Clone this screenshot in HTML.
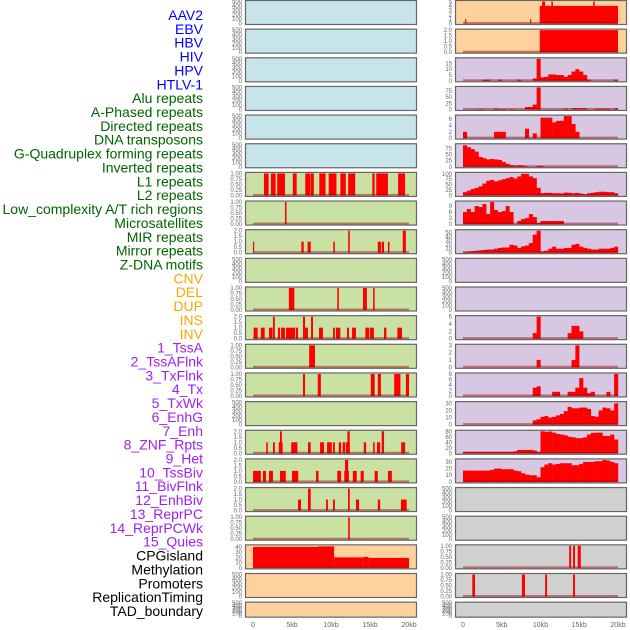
<!DOCTYPE html>
<html><head><meta charset="utf-8"><style>
html,body{margin:0;padding:0;background:#fff;width:630px;height:630px;overflow:hidden}
svg{display:block}
</style></head><body>
<svg id="chart" width="630" height="630" xmlns="http://www.w3.org/2000/svg"></svg>
<script>
// ---- track labels ----
const labelNames = ["AAV2","EBV","HBV","HIV","HPV","HTLV-1","Alu repeats","A-Phased repeats","Directed repeats","DNA transposons","G-Quadruplex forming repeats","Inverted repeats","L1 repeats","L2 repeats","Low_complexity A/T rich regions","Microsatellites","MIR repeats","Mirror repeats","Z-DNA motifs","CNV","DEL","DUP","INS","INV","1_TssA","2_TssAFlnk","3_TxFlnk","4_Tx","5_TxWk","6_EnhG","7_Enh","8_ZNF_Rpts","9_Het","10_TssBiv","11_BivFlnk","12_EnhBiv","13_ReprPC","14_ReprPCWk","15_Quies","CPGisland","Methylation","Promoters","ReplicationTiming","TAD_boundary"];
const labelGroups = [6,13,5,15,5]; // counts per colour group
const groupColors = ["#0000ff","#006400","#ffa500","#a020f0","#000000"];
const xTickKb = [0,5,10,15,20];
const xTickLabels = ["0","5kb","10kb","15kb","20kb"];

// ---- middle column data: [startKb, endKb, value] ----
const midL1 = [[1.4,2.0,1],[2.3,2.9,1],[3.1,4.1,1],[5.1,5.6,1],[6.7,7.35,1],[7.4,7.8,1],[8.5,9.3,1],[9.7,10.7,1],[11.2,11.9,1],[12.2,13.1,1],[15.3,15.6,1],[15.8,17.3,1],[18.6,19.5,1]];
const midR7 = [[4.1,4.3,1]];
const midR8 = [[0,0.15,1],[6.2,6.5,1],[7.0,7.4,1],[10.3,10.5,1],[12.2,12.4,2],[16.0,16.4,1],[16.5,16.8,1],[17.3,17.5,1],[19.2,19.6,2]];
const midR10 = [[4.6,5.3,1],[10.8,11.0,1],[14.1,14.6,1],[15.4,15.6,1]];
const midR11 = [[0.08,0.6,1],[1.0,1.5,1],[2.05,2.5,1],[2.56,2.8,2],[3.2,3.46,1],[3.6,4.1,1],[4.23,5.4,1],[5.5,5.77,1],[6.41,6.67,2],[6.67,7.05,1],[7.44,7.69,2],[8.46,8.97,1],[10.26,10.5,1],[10.64,11.2,1],[12.05,12.3,1],[12.7,13.2,1],[14.4,14.9,1],[15.0,15.5,1],[16.8,17.1,1],[18.5,19.1,1]];
const midR12 = [[7.2,7.95,1]];
const midR13 = [[6.41,6.67,1],[8.3,8.7,1],[15.1,15.6,1],[16.0,16.4,1],[18.1,18.9,1],[19.6,20.0,1]];
const midR15 = [[1.7,1.9,1],[2.56,2.8,1],[3.3,3.8,1],[3.46,3.7,2],[4.9,5.7,1],[7.05,7.4,1],[8.6,9.1,1],[9.5,10.1,1],[10.26,10.5,1],[11.0,11.3,1],[11.5,11.8,1],[11.9,12.4,1],[12.1,12.4,2],[14.2,14.5,1],[15.4,15.6,1],[15.9,16.3,1],[16.5,16.8,2],[19.0,19.5,1]];
const midR16 = [[0,1.0,1],[1.28,1.66,1],[2.05,2.56,1],[3.46,4.2,1],[5.0,5.8,1],[8.08,8.4,1],[10.8,11.3,1],[11.7,12.3,1],[11.8,12.2,2],[12.8,13.3,1],[13.8,14.2,1],[15.6,16.0,1],[17.3,17.8,1]];
const midR17 = [[5.77,6.15,1],[7.05,7.4,2],[9.36,9.6,1],[10.26,10.5,1],[12.18,12.4,2],[13.2,13.6,1],[16.0,16.3,1],[18.97,19.7,1]];
const midR18 = [[12.2,12.4,1]];
const midCpg = [[0,8.4,40],[8.4,10.4,41],[10.4,14.2,20],[14.2,14.8,21],[14.8,20,19]];

// ---- right column data ----
const rightR0 = [[0.27,0.4,1],[8.65,8.8,1],[9.9,20,4],[10.2,10.6,5],[11.4,11.6,5],[16.8,17.0,5]];
const rightR1 = [[9.9,20,2]];
// dense profiles: 40 bins of 0.5 kb from 0 to 20 kb
const rightR2 = [0,0,0,0,0,1,1,0,0,1,0,0,0,0,1,0,0,0,2,19,3,3.5,5.5,5.5,5,5,3.5,5,8,10,8,5,1,0,0,0,0,0,0,1];
const rightR3 = [0,0,0,0,2,0,0,0,4,2,2,0,2,0,0,0,10,10,20,90,0,0,0,0,0,0,3,0,5,5,5,5,0,0,3,3,3,3,0,5];
const rightR4 = [2,0,0,0,0,0,0,0,2,2,2,0,0,0,0,0,3,0,1.5,0,6.5,6.5,6.5,5,5.5,5.5,7,7,4.5,2,0,0,0,0,0,0,0,0,0,0];
const rightR5 = [88,80,72,62,40,35,30,32,30,28,20,12,7,5,6,5,2,0,0,4,3,0,0,0,0,0,0,0,0,0,0,0,0,0,0,0,0,0,0,0];
const rightR6 = [15,22,30,35,42,55,68,72,65,70,75,80,85,78,88,100,100,88,80,35,10,12,12,10,10,9,13,12,10,12,8,5,10,12,15,17,17,15,15,10];
const rightR7 = [6,7.5,6,9,8.5,10,5,11,7,6,6.5,9,6,0,1.5,2.5,3,5,3.5,0.5,1.5,1.5,1.5,1.5,1.5,1.5,0,0,0,0,0,0,0,0,0,0,0,0,0,0];
const rightR8 = [2,3,4,5,6,7,8,8,10,12,13,13,20,18,12,16,18,24,45,55,3,5,10,15,10,10,12,12,20,22,15,12,10,8,8,10,10,10,12,15];
const rightR11 = [0,0,0,0,0,0,0,0,0,0,0,0,0,0,0,0,0,0,1.5,6,0,0,0,0,0,0,0,1.5,3.5,3.5,2,0,0,0,0,0,0,0,0,0];
const rightR12 = [0,0,0,0,0,0,0,0,0,0,0,0,0,0,0,0,0,0,0,1,0,0,0,0,0,0,0,0,1,3,0,0,0,0,0,0,0,0,0,0];
const rightR13 = [0,0,0,0,0,0,0,0,0,0,0,0,0,0,0,0,0,0,3,3.5,0,0,0,1.5,1.5,0,0,1.5,1.5,3,6.5,3,1,1.5,0,0,0,1.5,0,8];
const rightR14 = [0,0,0,0,0,0,0,0,0,0,0,0,0,0,0,0,0,0,6,7.5,11,12,10,11,13,15,19,25,23,23,24,24,22,12,11,20,24,23,20,30];
const rightR15 = [5,5,5,5,5,5,5,5,5,5,5,5,5,7,12,12,12,12,10,5,80,78,79,75,70,68,65,60,58,55,55,58,68,74,75,75,63,63,68,50];
const rightR16 = [17,17,17,17,17,17,17,18,20,20,19,19,19,17,16,13,11,10,10,7,22,26,28,26,27,28,28,28,25,25,27,30,30,30,31,31,33,32,30,28];
const rightR19 = [[13.7,13.95,1],[14.2,14.45,1],[14.8,15.2,1]];
const rightR20 = [[1.2,1.55,1],[7.6,8.0,1],[10.6,10.85,1],[14.2,14.45,1]];

// ---- tick label sets ----
const tEmpty = [0,100,200,300,400,500];
const tUnit = [0,0.25,0.5,0.75,1];
const tTwo = [0,0.5,1,1.5,2];

const BG = {blue:"#c8e4eb",green:"#c9e1a3",orange:"#fed19d",purple:"#d7c7e2",gray:"#d0d0d0"};
const NS = "http://www.w3.org/2000/svg";
const svg = document.getElementById("chart");
function mk(tag, attrs, parent){
  const e = document.createElementNS(NS, tag);
  for (const k in attrs) e.setAttribute(k, attrs[k]);
  (parent||svg).appendChild(e);
  return e;
}

// labels
let li = 0;
labelGroups.forEach((n, g) => {
  for (let j = 0; j < n; j++, li++) {
    const t = mk("text", {x:203, y:15 + li*13.86 + 5, "text-anchor":"end", "font-family":"Liberation Sans, sans-serif", "font-size":"14", fill:groupColors[g]});
    
    
    t.textContent = labelNames[li];
  }
});

const cols = [{left:245, right:417, x0:253, s:7.8},{left:455, right:627, x0:463, s:7.75}];
function rowTop(r){ return r*28.65; }
function rowH(r){ return r===21 ? 16 : 25; }

function fmt(v, ticks){
  const mx = ticks[ticks.length-1];
  if (mx === 1) return v.toFixed(2);
  if (mx === 2 && ticks.length === 5) return v.toFixed(1);
  return String(v);
}

function panel(colIdx, r, bg, ticks, ymax, sparse, dense, name){
  const c = cols[colIdx], top = rowTop(r), h = rowH(r);
  const g = mk("g", {});
  
  
  mk("rect", {x:c.left+0.5, y:top+0.5, width:c.right-c.left-1, height:h-1, fill:BG[bg], stroke:"#666", "stroke-width":1.2}, g);
  const yb = top + h - 1.5, yr = h - 3;
  const ys = v => yb - (v/ymax)*yr;
  const xs = kb => c.x0 + kb*c.s;
  // y ticks
  ticks.forEach(v => {
    const t = mk("text", {x:c.left-3, y:ys(v)+2, "text-anchor":"end", "font-family":"Liberation Sans, sans-serif", "font-size":"6", fill:"#666"}, g);
    
    
    t.textContent = fmt(v, ticks);
  });
  if (!sparse && !dense) return;
  const clipTop = top + 1;
  if (sparse) sparse.forEach(d => {
    const y = Math.max(ys(d[2]), clipTop);
    const b = mk("rect", {x:xs(d[0]), y:y, width:Math.max(1.2, xs(d[1])-xs(d[0])), height:yb-y, fill:"#ff0000"}, g);
    
    
  });
  if (dense) dense.forEach((v, i) => {
    if (!v) return;
    const y = Math.max(ys(v), clipTop);
    const b = mk("rect", {x:xs(i*0.5), y:y, width:xs((i+1)*0.5)-xs(i*0.5)+0.2, height:yb-y, fill:"#ff0000"}, g);
    
    
  });
  const bl = mk("rect", {x:xs(0), y:yb-1.5, width:xs(20)-xs(0), height:2, fill:"rgba(150,0,0,0.45)"}, g);
  
  
}

// middle column
for (let r = 0; r < 6; r++) panel(0, r, "blue", tEmpty, 500, null, null, "mid-empty-track");
panel(0, 6, "green", tUnit, 1, midL1, null, "mid-track-6");
panel(0, 7, "green", tUnit, 1, midR7, null, "mid-track-7");
panel(0, 8, "green", tTwo, 2, midR8, null, "mid-track-8");
panel(0, 9, "green", tEmpty, 500, null, null, "mid-empty-track");
panel(0, 10, "green", tUnit, 1, midR10, null, "mid-track-10");
panel(0, 11, "green", tTwo, 2, midR11, null, "mid-track-11");
panel(0, 12, "green", tUnit, 1, midR12, null, "mid-track-12");
panel(0, 13, "green", tUnit, 1, midR13, null, "mid-track-13");
panel(0, 14, "green", tEmpty, 500, null, null, "mid-empty-track");
panel(0, 15, "green", tTwo, 2, midR15, null, "mid-track-15");
panel(0, 16, "green", tTwo, 2, midR16, null, "mid-track-16");
panel(0, 17, "green", tTwo, 2, midR17, null, "mid-track-17");
panel(0, 18, "green", tUnit, 1, midR18, null, "mid-track-18");
panel(0, 19, "orange", [0,10,20,30,40], 42, midCpg, null, "mid-cpg-track");
panel(0, 20, "orange", tEmpty, 500, null, null, "mid-empty-track");
panel(0, 21, "orange", tEmpty, 500, null, null, "mid-empty-track");

// right column
panel(1, 0, "orange", [0,1,2,3,4,5], 5, rightR0, null, "right-track-0");
panel(1, 1, "orange", tTwo, 2, rightR1, null, "right-track-1");
panel(1, 2, "purple", [0,5,10,15], 19, null, rightR2, "right-track-2");
panel(1, 3, "purple", [0,25,50,75], 90, null, rightR3, "right-track-3");
panel(1, 4, "purple", [0,2,4,6], 7, null, rightR4, "right-track-4");
panel(1, 5, "purple", [0,25,50,75], 90, null, rightR5, "right-track-5");
panel(1, 6, "purple", [0,25,50,75,100], 102, null, rightR6, "right-track-6");
panel(1, 7, "purple", [0,3,6,9], 11, null, rightR7, "right-track-7");
panel(1, 8, "purple", [0,10,20,30,40,50], 55, null, rightR8, "right-track-8");
panel(1, 9, "purple", tEmpty, 500, null, null, "right-empty-track");
panel(1, 10, "purple", tEmpty, 500, null, null, "right-empty-track");
panel(1, 11, "purple", [0,2,4,6], 6, null, rightR11, "right-track-11");
panel(1, 12, "purple", [0,1,2,3], 3, null, rightR12, "right-track-12");
panel(1, 13, "purple", [0,2,4,6,8], 8, null, rightR13, "right-track-13");
panel(1, 14, "purple", [0,10,20,30], 31, null, rightR14, "right-track-14");
panel(1, 15, "purple", [0,20,40,60,80], 80, null, rightR15, "right-track-15");
panel(1, 16, "purple", [0,10,20,30], 33, null, rightR16, "right-track-16");
panel(1, 17, "gray", tEmpty, 500, null, null, "right-empty-track");
panel(1, 18, "gray", tEmpty, 500, null, null, "right-empty-track");
panel(1, 19, "gray", tUnit, 1, rightR19, null, "right-track-19");
panel(1, 20, "gray", tUnit, 1, rightR20, null, "right-track-20");
panel(1, 21, "gray", tEmpty, 500, null, null, "right-empty-track");

// x axes
cols.forEach(c => {
  xTickKb.forEach((kb, i) => {
    const t = mk("text", {x:c.x0 + kb*c.s, y:627, "text-anchor":"middle", "font-family":"Liberation Sans, sans-serif", "font-size":"7", fill:"#666"});
    
    
    t.textContent = xTickLabels[i];
  });
});
</script>
</body></html>
